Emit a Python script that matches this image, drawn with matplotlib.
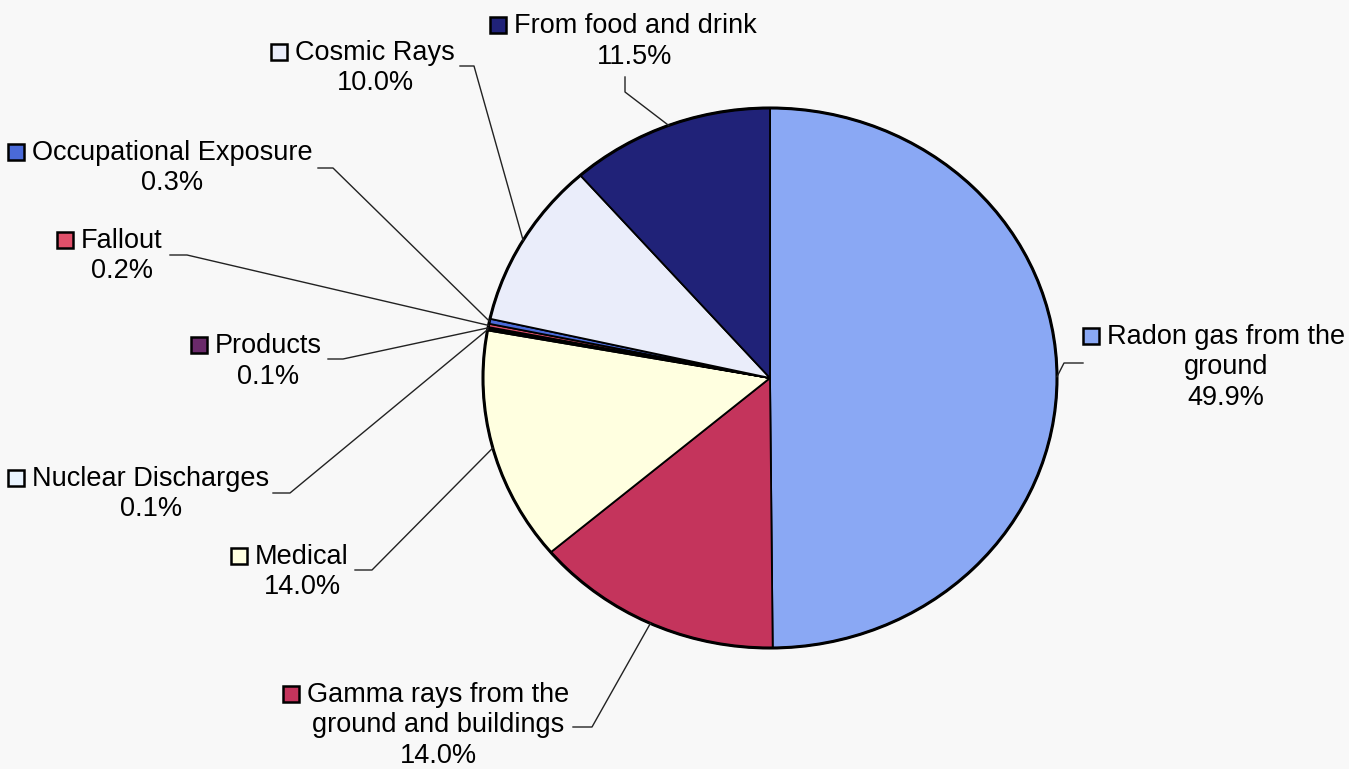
import numpy as np
import matplotlib.pyplot as plt
from matplotlib.patches import Rectangle, Circle

# slices, clockwise from 12 o'clock
labels = ['Radon gas from the\nground', 'Gamma rays from the\nground and buildings', 'Medical',
          'Nuclear Discharges', 'Products', 'Fallout', 'Occupational Exposure',
          'Cosmic Rays', 'From food and drink']
values = [49.9, 14.0, 14.0, 0.1, 0.1, 0.2, 0.3, 10.0, 11.5]
colors = ['#8AA8F4', '#C4345C', '#FFFFE0', '#EAF4FF', '#6A2A6A', '#E0506A', '#4A6AD8',
          '#EAEDFA', '#202278']

# label layout in image pixels: text centre x, first baseline y, leader elbow, leader end
label_cx = [1226, 438, 302, 151, 268, 122, 172, 375, 635]
label_y0 = [344, 702, 564, 486, 353, 248, 160, 60, 33]
elbows = [(1064, 363), (592, 727), (372, 570), (290, 493), (343, 359), (187, 255), (333, 168), (474, 66), (625, 92)]
ends = [(1083, 363), (573, 727), (355, 570), (273, 493), (328, 359), (170, 255), (318, 168), (460, 66), (625, 77)]

W, H = 1349, 769
CX, CY, RX, RY = 770, 378, 287, 270
LINE = 30.5


def fx(x):
    return (x - CX) / RX


def fy(y):
    return (CY - y) / RY


fig = plt.figure(figsize=(W / 100, H / 100), dpi=100, facecolor='#F8F8F8')
ax = fig.add_axes([0, 0, 1, 1])
ax.set_facecolor('#F8F8F8')

wedges, _ = ax.pie(values, colors=colors, startangle=90, counterclock=False,
                   wedgeprops=dict(edgecolor='black', linewidth=1.3))
ax.add_patch(Circle((0, 0), 1, fill=False, edgecolor='black', linewidth=2.2))
ax.set_aspect('auto')
ax.set_xlim(fx(0), fx(W))
ax.set_ylim(fy(H), fy(0))
ax.axis('off')

first_lines = []
for i, w in enumerate(wedges):
    lines = labels[i].split('\n') + ['%.1f%%' % values[i]]
    for j, s in enumerate(lines):
        t = ax.text(fx(label_cx[i]), fy(label_y0[i] + j * LINE), s, ha='center', va='baseline',
                    fontsize=19.5, family='Liberation Sans', color='black')
        if j == 0:
            first_lines.append(t)
    # leader line
    mid = np.deg2rad((w.theta1 + w.theta2) / 2)
    ex, ey = np.cos(mid), np.sin(mid)
    ax.plot([ex, fx(elbows[i][0]), fx(ends[i][0])], [ey, fy(elbows[i][1]), fy(ends[i][1])],
            color='#222222', linewidth=1.0)

# legend keys in front of first label line
fig.canvas.draw()
for i, t in enumerate(first_lines):
    bb = t.get_window_extent()
    px_left = bb.x0 - 8 - 16
    x0, y0 = ax.transData.inverted().transform((px_left, 0))
    ax.add_patch(Rectangle((x0, fy(label_y0[i])), 16 / RX, 16 / RY, facecolor=colors[i],
                           edgecolor='black', linewidth=1.8, zorder=5))

fig.savefig('out.png', dpi=100, facecolor=fig.get_facecolor())
